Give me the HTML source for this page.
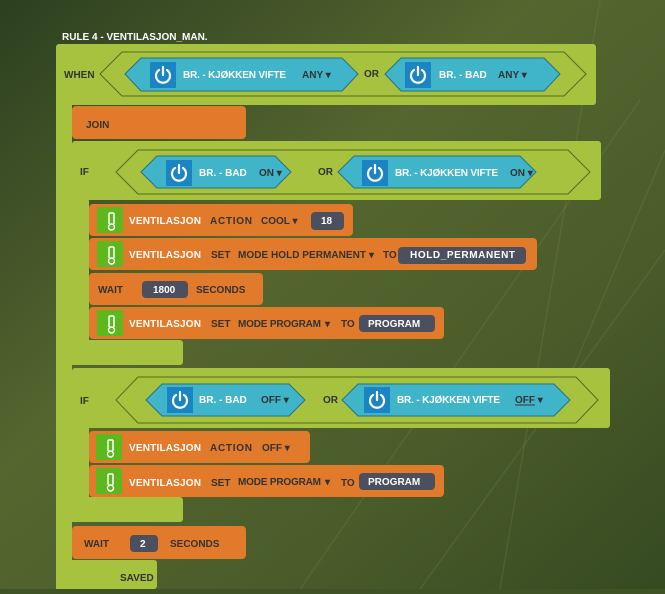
<!DOCTYPE html><html><head><style>body{margin:0;width:665px;height:589px;overflow:hidden;background:#3f5326}
text{font-family:"Liberation Sans",sans-serif;font-size:10px;font-weight:bold}</style></head><body>
<svg width="665" height="589" xmlns="http://www.w3.org/2000/svg">
<defs><linearGradient id="bg" x1="0" y1="0" x2="1" y2="1"><stop offset="0" stop-color="#2c4020"/><stop offset=".4" stop-color="#55662f"/><stop offset=".7" stop-color="#4a5c2a"/><stop offset="1" stop-color="#364a22"/></linearGradient></defs>
<rect width="665" height="589" fill="url(#bg)"/>
<g stroke="#8a9a5a" stroke-opacity=".18" stroke-width="1.5"><line x1="300" y1="589" x2="640" y2="100"/><line x1="420" y1="589" x2="665" y2="250"/><line x1="500" y1="589" x2="600" y2="0"/><line x1="560" y1="400" x2="665" y2="150"/></g>
<text x="62" y="40" fill="#fff" font-size="10">RULE 4 - VENTILASJON_MAN.</text>
<g fill="#a6c23e">
<rect x="56" y="44" width="540" height="61" rx="3"/>
<rect x="56" y="100" width="16" height="489"/>
<rect x="72" y="141" width="529" height="59" rx="3"/>
<rect x="72" y="195" width="17" height="170"/>
<rect x="72" y="340" width="111" height="25" rx="3"/>
<rect x="72" y="368" width="538" height="60" rx="3"/>
<rect x="72" y="425" width="17" height="97"/>
<rect x="72" y="497" width="111" height="25" rx="3"/>
<rect x="56" y="560" width="101" height="29" rx="3"/>
</g>
<g fill="none" stroke="#556b22" stroke-width="1">
<polygon points="100,74 122,52 564,52 586,74 564,96 122,96"/>
<polygon points="116,172 138,150 568,150 590,172 568,194 138,194"/>
<polygon points="116,400 138,377 576,377 598,400 576,423 138,423"/>
</g>
<g fill="#40b4c9" stroke="#2a7080" stroke-width="1">
<polygon points="125,74 141,58 342,58 358,74 342,91 141,91"/>
<polygon points="385,74 401,58 544,58 560,74 544,91 401,91"/>
<polygon points="141,172 157,156 275,156 291,172 275,188 157,188"/>
<polygon points="338,172 354,156 520,156 536,172 520,188 354,188"/>
<polygon points="146,400 162,384 289,384 305,400 289,416 162,416"/>
<polygon points="342,400 358,384 554,384 570,400 554,416 358,416"/>
</g>
<g fill="#1a85c2"><rect x="150" y="62" width="26" height="26"/><rect x="405" y="62" width="26" height="26"/><rect x="166" y="160" width="26" height="26"/><rect x="362" y="160" width="26" height="26"/><rect x="167" y="387" width="26" height="26"/><rect x="364" y="387" width="26" height="26"/></g>
<g fill="none" stroke="#fff" stroke-width="2.2" stroke-linecap="round">
<path d="M159,70 a7,7 0 1,0 8,0 M163,67 v8"/><path d="M414,70 a7,7 0 1,0 8,0 M418,67 v8"/>
<path d="M175,168 a7,7 0 1,0 8,0 M179,165 v8"/><path d="M371,168 a7,7 0 1,0 8,0 M375,165 v8"/>
<path d="M176,395 a7,7 0 1,0 8,0 M180,392 v8"/><path d="M373,395 a7,7 0 1,0 8,0 M377,392 v8"/>
</g>
<g fill="#e27a2b">
<rect x="72" y="106" width="174" height="33" rx="4"/>
<rect x="89" y="204" width="264" height="32" rx="4"/>
<rect x="89" y="238" width="448" height="32" rx="4"/>
<rect x="89" y="273" width="174" height="32" rx="4"/>
<rect x="89" y="307" width="355" height="32" rx="4"/>
<rect x="89" y="431" width="221" height="32" rx="4"/>
<rect x="89" y="465" width="355" height="32" rx="4"/>
<rect x="72" y="526" width="174" height="33" rx="4"/>
</g>
<g fill="#5cb81c"><rect x="97" y="207" width="26" height="26"/><rect x="97" y="241" width="26" height="26"/><rect x="97" y="310" width="26" height="26"/><rect x="96" y="434" width="26" height="26"/><rect x="96" y="468" width="26" height="26"/></g>
<g fill="none" stroke="#fff" stroke-width="1.5"><path d="M109,213 v11 M114,213 v11 M109,213 h5"/><circle cx="111.5" cy="227" r="3"/><path d="M109,247 v11 M114,247 v11 M109,247 h5"/><circle cx="111.5" cy="261" r="3"/><path d="M109,316 v11 M114,316 v11 M109,316 h5"/><circle cx="111.5" cy="330" r="3"/><path d="M108,440 v11 M113,440 v11 M108,440 h5"/><circle cx="110.5" cy="454" r="3"/><path d="M108,474 v11 M113,474 v11 M108,474 h5"/><circle cx="110.5" cy="488" r="3"/></g>
<g fill="#4c4f5e"><rect x="311" y="212" width="33" height="18" rx="4"/><rect x="398" y="247" width="128" height="17" rx="4"/><rect x="142" y="281" width="46" height="17" rx="4"/><rect x="359" y="315" width="76" height="17" rx="4"/><rect x="359" y="473" width="76" height="17" rx="4"/><rect x="130" y="535" width="28" height="17" rx="4"/></g>
<g fill="#333">
<text x="64" y="78">WHEN</text><text x="364" y="77">OR</text>
<text x="86" y="128">JOIN</text>
<text x="80" y="175">IF</text><text x="318" y="175">OR</text>
<text x="80" y="404">IF</text><text x="323" y="403">OR</text>
<text x="210" y="224" textLength="42">ACTION</text><text x="261" y="224">COOL ▾</text>
<text x="211" y="258">SET</text><text x="238" y="258" textLength="128">MODE HOLD PERMANENT</text><text x="369" y="258">▾</text><text x="383" y="258">TO</text>
<text x="98" y="293">WAIT</text><text x="196" y="293">SECONDS</text>
<text x="211" y="327">SET</text><text x="238" y="327" textLength="83">MODE PROGRAM</text><text x="325" y="327">▾</text><text x="341" y="327">TO</text>
<text x="210" y="451" textLength="42">ACTION</text><text x="262" y="451">OFF ▾</text>
<text x="211" y="486">SET</text><text x="238" y="485" textLength="83">MODE PROGRAM</text><text x="325" y="485">▾</text><text x="341" y="486">TO</text>
<text x="84" y="547">WAIT</text><text x="170" y="547">SECONDS</text>
<text x="120" y="581">SAVED</text>
<text x="302" y="78">ANY ▾</text><text x="498" y="78">ANY ▾</text>
<text x="259" y="176">ON ▾</text><text x="510" y="176">ON ▾</text>
<text x="261" y="403">OFF ▾</text><text x="515" y="403">OFF ▾</text>
</g>
<line x1="515" y1="405" x2="535" y2="405" stroke="#333"/>
<g fill="#fff">
<text x="183" y="78" textLength="103">BR. - KJØKKEN VIFTE</text><text x="439" y="78">BR. - BAD</text>
<text x="199" y="176">BR. - BAD</text><text x="395" y="176" textLength="103">BR. - KJØKKEN VIFTE</text>
<text x="199" y="403">BR. - BAD</text><text x="397" y="403" textLength="103">BR. - KJØKKEN VIFTE</text>
<text x="129" y="224" textLength="72">VENTILASJON</text><text x="129" y="258" textLength="72">VENTILASJON</text><text x="129" y="327" textLength="72">VENTILASJON</text>
<text x="129" y="451" textLength="72">VENTILASJON</text><text x="129" y="486" textLength="72">VENTILASJON</text>
<text x="321" y="224">18</text><text x="410" y="258" textLength="105">HOLD_PERMANENT</text><text x="153" y="293">1800</text>
<text x="368" y="327">PROGRAM</text><text x="368" y="485">PROGRAM</text><text x="140" y="547">2</text>
</g>
</svg></body></html>
